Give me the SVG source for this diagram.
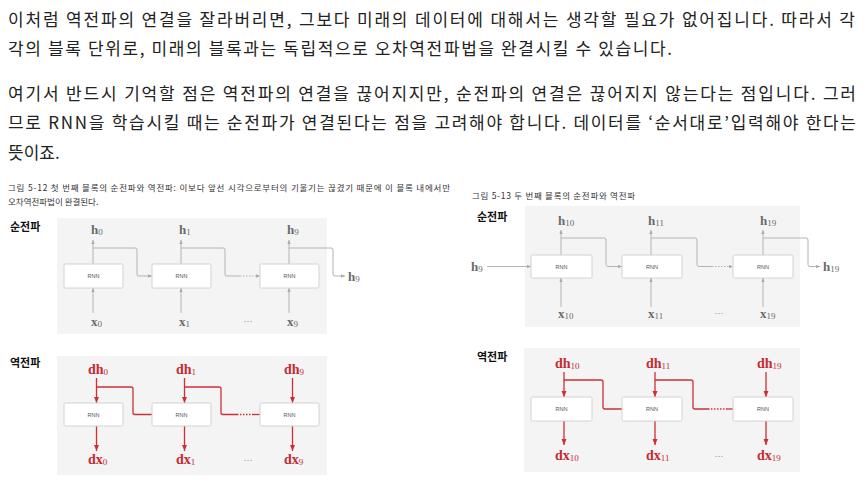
<svg xmlns="http://www.w3.org/2000/svg" width="867" height="500" viewBox="0 0 867 500">
<defs>
<style>
.para{font-family:"Noto Sans CJK KR","Noto Sans",sans-serif;font-size:17px;fill:#222}
.cap{font-family:"Noto Sans CJK KR","Noto Sans",sans-serif;font-size:8.5px;fill:#333}
.sec{font-family:"Noto Sans CJK KR","Noto Sans",sans-serif;font-size:11px;font-weight:bold;fill:#111}
.bg{fill:#f4f4f4}
.box{fill:#fff;stroke:#d2d2d2;stroke-width:1}
.rnn{font-family:"Liberation Sans",Arial,sans-serif;font-size:5.5px;fill:#555;text-anchor:middle}
.gl{font-family:"Liberation Serif","DejaVu Serif",serif;font-size:13px;font-weight:bold;fill:#6a6a6a}
.rl{font-family:"Liberation Serif","DejaVu Serif",serif;font-size:14px;font-weight:bold;fill:#c62a2f}
.sub{font-weight:normal;font-size:9px}
.dots{font-family:"Liberation Sans",Arial,sans-serif;font-size:9px;fill:#888;text-anchor:middle}
.fw{fill:none;stroke:#b4b4b4;stroke-width:1}
.fwd{fill:none;stroke:#b4b4b4;stroke-width:1;stroke-dasharray:1.5 1.5}
.bw{fill:none;stroke:#cc3035;stroke-width:1.3}
.bwd{fill:none;stroke:#cc3035;stroke-width:1.3;stroke-dasharray:1.5 1.5}
</style>
<marker id="ag" viewBox="0 0 6 6" refX="6" refY="3" markerWidth="4" markerHeight="4" orient="auto" markerUnits="userSpaceOnUse"><path d="M0,0.5 L6,3 L0,5.5z" fill="#aaa"/></marker>
<marker id="ar" viewBox="0 0 6 6" refX="6" refY="3" markerWidth="6" markerHeight="6" orient="auto" markerUnits="userSpaceOnUse"><path d="M0,0.5 L6,3 L0,5.5z" fill="#cc3035"/></marker>
</defs>

<g id="text">
<text class="para" x="8" y="26" textLength="847" lengthAdjust="spacing">이처럼 역전파의 연결을 잘라버리면, 그보다 미래의 데이터에 대해서는 생각할 필요가 없어집니다. 따라서 각</text>
<text class="para" x="8" y="55" textLength="664" lengthAdjust="spacing">각의 블록 단위로, 미래의 블록과는 독립적으로 오차역전파법을 완결시킬 수 있습니다.</text>
<text class="para" x="8" y="100" textLength="848" lengthAdjust="spacing">여기서 반드시 기억할 점은 역전파의 연결을 끊어지지만, 순전파의 연결은 끊어지지 않는다는 점입니다. 그러</text>
<text class="para" x="8" y="129" textLength="848" lengthAdjust="spacing">므로 RNN을 학습시킬 때는 순전파가 연결된다는 점을 고려해야 합니다. 데이터를 ‘순서대로’입력해야 한다는</text>
<text class="para" x="8" y="159">뜻이죠.</text>
<text class="cap" x="8" y="191" textLength="442" lengthAdjust="spacing">그림 5-12  첫 번째 블록의 순전파와 역전파: 이보다 앞선 시각으로부터의 기울기는 끊겼기 때문에 이 블록 내에서만</text>
<text class="cap" x="8" y="205">오차역전파법이 완결된다.</text>
<text class="cap" x="472" y="199" textLength="163" lengthAdjust="spacing">그림 5-13  두 번째 블록의 순전파와 역전파</text>
<text class="sec" x="10" y="231">순전파</text>
<text class="sec" x="10" y="367">역전파</text>
<text class="sec" x="477" y="221">순전파</text>
<text class="sec" x="477" y="361">역전파</text>
</g>

<g id="backgrounds">
<rect class="bg" x="57" y="218" width="270" height="116"/>
<rect class="bg" x="57" y="356" width="270" height="119"/>
<rect class="bg" x="525" y="206" width="275" height="121"/>
<rect class="bg" x="524" y="348" width="276" height="124"/>
</g>

<g id="connectors">
<!-- left forward -->
<path class="fw" d="M93,264 V240" marker-end="url(#ag)"/>
<path class="fw" d="M181,264 V240" marker-end="url(#ag)"/>
<path class="fw" d="M289,264 V240" marker-end="url(#ag)"/>
<path class="fw" d="M93,313 V288" marker-end="url(#ag)"/>
<path class="fw" d="M181,313 V288" marker-end="url(#ag)"/>
<path class="fw" d="M289,313 V288" marker-end="url(#ag)"/>
<path class="fw" d="M93,248 H135 Q137,248 137,250 V274 Q137,276 139,276 H152" marker-end="url(#ag)"/>
<path class="fw" d="M181,248 H223 Q225,248 225,250 V274 Q225,276 227,276 H240"/>
<path class="fwd" d="M240,276 H260" marker-end="url(#ag)"/>
<path class="fw" d="M289,248 H331 Q333,248 333,250 V274 Q333,276 335,276 H345" marker-end="url(#ag)"/>
<!-- left backward -->
<path class="bw" d="M96.5,378 V403" marker-end="url(#ar)"/>
<path class="bw" d="M184.5,378 V403" marker-end="url(#ar)"/>
<path class="bw" d="M292.5,378 V403" marker-end="url(#ar)"/>
<path class="bw" d="M96.5,426 V451" marker-end="url(#ar)"/>
<path class="bw" d="M184.5,426 V451" marker-end="url(#ar)"/>
<path class="bw" d="M292.5,426 V451" marker-end="url(#ar)"/>
<path class="bw" d="M96.5,387 H131 Q133,387 133,389 V412.5 Q133,414.5 135,414.5 H152"/>
<path class="bw" d="M184.5,387 H219 Q221,387 221,389 V412.5 Q221,414.5 223,414.5 H237"/>
<path class="bwd" d="M237,414.5 H253"/>
<path class="bw" d="M253,414.5 H260"/>
<!-- right forward -->
<path class="fw" d="M561,255 V230" marker-end="url(#ag)"/>
<path class="fw" d="M651,255 V230" marker-end="url(#ag)"/>
<path class="fw" d="M763,255 V230" marker-end="url(#ag)"/>
<path class="fw" d="M561,307 V278" marker-end="url(#ag)"/>
<path class="fw" d="M651,307 V278" marker-end="url(#ag)"/>
<path class="fw" d="M763,307 V278" marker-end="url(#ag)"/>
<path class="fw" d="M487,266.5 H531" marker-end="url(#ag)"/>
<path class="fw" d="M561,238 H604 Q606,238 606,240 V264.5 Q606,266.5 608,266.5 H622" marker-end="url(#ag)"/>
<path class="fw" d="M651,238 H695 Q697,238 697,240 V264.5 Q697,266.5 699,266.5 H712"/>
<path class="fwd" d="M712,266.5 H733" marker-end="url(#ag)"/>
<path class="fw" d="M763,238 H806 Q808,238 808,240 V264.5 Q808,266.5 810,266.5 H820" marker-end="url(#ag)"/>
<!-- right backward -->
<path class="bw" d="M564,372 V397" marker-end="url(#ar)"/>
<path class="bw" d="M655,372 V397" marker-end="url(#ar)"/>
<path class="bw" d="M766,372 V397" marker-end="url(#ar)"/>
<path class="bw" d="M564,421 V445" marker-end="url(#ar)"/>
<path class="bw" d="M655,421 V445" marker-end="url(#ar)"/>
<path class="bw" d="M766,421 V445" marker-end="url(#ar)"/>
<path class="bw" d="M564,380 H601 Q603,380 603,382 V407 Q603,409 605,409 H622"/>
<path class="bw" d="M655,380 H691 Q693,380 693,382 V407 Q693,409 695,409 H708"/>
<path class="bwd" d="M708,409 H727"/>
<path class="bw" d="M727,409 H733"/>
</g>

<g id="left-forward">
<g id="lf-rnn0"><rect class="box" x="64" y="264" width="59" height="24" rx="1.5"/><text class="rnn" x="93.5" y="278">RNN</text></g>
<g id="lf-rnn1"><rect class="box" x="152" y="264" width="59" height="24" rx="1.5"/><text class="rnn" x="181.5" y="278">RNN</text></g>
<g id="lf-rnn9"><rect class="box" x="260" y="264" width="59" height="24" rx="1.5"/><text class="rnn" x="289.5" y="278">RNN</text></g>
<g id="lf-h0"><text class="gl" x="91" y="234">h<tspan class="sub" dy="1">0</tspan></text></g>
<g id="lf-h1"><text class="gl" x="179" y="234">h<tspan class="sub" dy="1">1</tspan></text></g>
<g id="lf-h9"><text class="gl" x="287" y="234">h<tspan class="sub" dy="1">9</tspan></text></g>
<g id="lf-h9out"><text class="gl" x="348" y="281">h<tspan class="sub" dy="1">9</tspan></text></g>
<g id="lf-x0"><text class="gl" x="91" y="326">x<tspan class="sub" dy="1">0</tspan></text></g>
<g id="lf-x1"><text class="gl" x="179" y="326">x<tspan class="sub" dy="1">1</tspan></text></g>
<g id="lf-x9"><text class="gl" x="287" y="326">x<tspan class="sub" dy="1">9</tspan></text></g>
<text class="dots" x="248" y="324">···</text>
</g>

<g id="left-backward">
<g id="lb-rnn0"><rect class="box" x="64" y="403" width="59" height="23" rx="1.5"/><text class="rnn" x="93.5" y="416.5">RNN</text></g>
<g id="lb-rnn1"><rect class="box" x="152" y="403" width="59" height="23" rx="1.5"/><text class="rnn" x="181.5" y="416.5">RNN</text></g>
<g id="lb-rnn9"><rect class="box" x="260" y="403" width="59" height="23" rx="1.5"/><text class="rnn" x="289.5" y="416.5">RNN</text></g>
<g id="lb-dh0"><text class="rl" x="88" y="374">dh<tspan class="sub" dy="1">0</tspan></text></g>
<g id="lb-dh1"><text class="rl" x="176" y="374">dh<tspan class="sub" dy="1">1</tspan></text></g>
<g id="lb-dh9"><text class="rl" x="284" y="374">dh<tspan class="sub" dy="1">9</tspan></text></g>
<g id="lb-dx0"><text class="rl" x="88" y="464">dx<tspan class="sub" dy="1">0</tspan></text></g>
<g id="lb-dx1"><text class="rl" x="176" y="464">dx<tspan class="sub" dy="1">1</tspan></text></g>
<g id="lb-dx9"><text class="rl" x="284" y="464">dx<tspan class="sub" dy="1">9</tspan></text></g>
<text class="dots" x="248" y="463">···</text>
</g>

<g id="right-forward">
<g id="rf-rnn10"><rect class="box" x="531" y="255" width="61" height="23" rx="1.5"/><text class="rnn" x="561.5" y="268.5">RNN</text></g>
<g id="rf-rnn11"><rect class="box" x="622" y="255" width="60" height="23" rx="1.5"/><text class="rnn" x="652" y="268.5">RNN</text></g>
<g id="rf-rnn19"><rect class="box" x="733" y="255" width="60" height="23" rx="1.5"/><text class="rnn" x="763" y="268.5">RNN</text></g>
<g id="rf-h9in"><text class="gl" x="471" y="271">h<tspan class="sub" dy="1">9</tspan></text></g>
<g id="rf-h10"><text class="gl" x="558" y="225">h<tspan class="sub" dy="1">10</tspan></text></g>
<g id="rf-h11"><text class="gl" x="648" y="225">h<tspan class="sub" dy="1">11</tspan></text></g>
<g id="rf-h19"><text class="gl" x="760" y="225">h<tspan class="sub" dy="1">19</tspan></text></g>
<g id="rf-h19out"><text class="gl" x="823" y="271">h<tspan class="sub" dy="1">19</tspan></text></g>
<g id="rf-x10"><text class="gl" x="558" y="318">x<tspan class="sub" dy="1">10</tspan></text></g>
<g id="rf-x11"><text class="gl" x="648" y="318">x<tspan class="sub" dy="1">11</tspan></text></g>
<g id="rf-x19"><text class="gl" x="760" y="318">x<tspan class="sub" dy="1">19</tspan></text></g>
<text class="dots" x="719" y="316">···</text>
</g>

<g id="right-backward">
<g id="rb-rnn10"><rect class="box" x="531" y="397" width="61" height="24" rx="1.5"/><text class="rnn" x="561.5" y="411">RNN</text></g>
<g id="rb-rnn11"><rect class="box" x="622" y="397" width="60" height="24" rx="1.5"/><text class="rnn" x="652" y="411">RNN</text></g>
<g id="rb-rnn19"><rect class="box" x="733" y="397" width="60" height="24" rx="1.5"/><text class="rnn" x="763" y="411">RNN</text></g>
<g id="rb-dh10"><text class="rl" x="555" y="368">dh<tspan class="sub" dy="1">10</tspan></text></g>
<g id="rb-dh11"><text class="rl" x="646" y="368">dh<tspan class="sub" dy="1">11</tspan></text></g>
<g id="rb-dh19"><text class="rl" x="757" y="368">dh<tspan class="sub" dy="1">19</tspan></text></g>
<g id="rb-dx10"><text class="rl" x="555" y="460">dx<tspan class="sub" dy="1">10</tspan></text></g>
<g id="rb-dx11"><text class="rl" x="646" y="460">dx<tspan class="sub" dy="1">11</tspan></text></g>
<g id="rb-dx19"><text class="rl" x="757" y="460">dx<tspan class="sub" dy="1">19</tspan></text></g>
<text class="dots" x="719" y="459">···</text>
</g>
</svg>
